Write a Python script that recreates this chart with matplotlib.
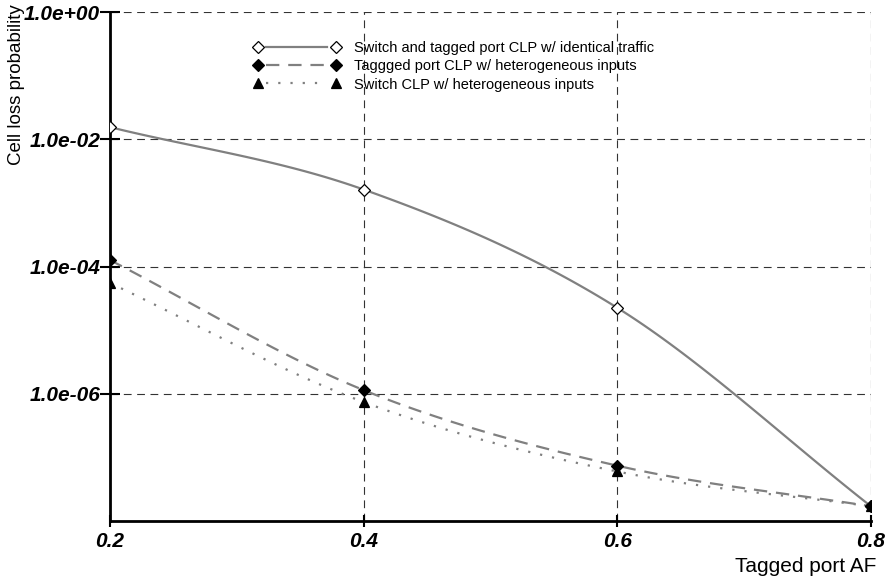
import matplotlib
matplotlib.use("Agg")
import matplotlib.pyplot as plt
from matplotlib.legend_handler import HandlerLine2DCompound
import numpy as np

plt.rcParams['font.family'] = ['Liberation Sans', 'DejaVu Sans']

# Data (log scale)
af = [0.2, 0.4, 0.6, 0.8]
clp_identical = [1.55e-2, 1.62e-3, 2.24e-5, 1.7e-8]
clp_tagged_het = [1.26e-4, 1.14e-6, 7.4e-8, 1.7e-8]
clp_switch_het = [5.5e-5, 7.4e-7, 6.0e-8, 1.7e-8]
labels = ['Switch and tagged port CLP w/ identical traffic',
          'Taggged port CLP w/ heterogeneous inputs',
          'Switch CLP w/ heterogeneous inputs']
yticks = [1e0, 1e-2, 1e-4, 1e-6]
ytick_labels = ['1.0e+00', '1.0e-02', '1.0e-04', '1.0e-06']
xticks = [0.2, 0.4, 0.6, 0.8]


def smooth(xs, ys, n=40):
    # Catmull-Rom curve through the points, done in log10 space
    x = np.asarray(xs, float)
    y = np.log10(np.asarray(ys, float))
    px = np.concatenate([[2 * x[0] - x[1]], x, [2 * x[-1] - x[-2]]])
    py = np.concatenate([[2 * y[0] - y[1]], y, [2 * y[-1] - y[-2]]])
    outx, outy = [], []
    t = np.linspace(0, 1, n)
    for i in range(1, len(px) - 2):
        for p, out in ((px, outx), (py, outy)):
            p0, p1, p2, p3 = p[i - 1], p[i], p[i + 1], p[i + 2]
            out.extend(0.5 * ((2 * p1) + (-p0 + p2) * t
                              + (2 * p0 - 5 * p1 + 4 * p2 - p3) * t ** 2
                              + (-p0 + 3 * p1 - 3 * p2 + p3) * t ** 3))
    return np.array(outx), 10 ** np.array(outy)


class GapHandler(HandlerLine2DCompound):
    # legend entry: marker, gap, line, gap, marker
    def create_artists(self, legend, orig_handle, xdescent, ydescent,
                       width, height, fontsize, trans):
        arts = super().create_artists(legend, orig_handle, xdescent, ydescent,
                                      width, height, fontsize, trans)
        gap = 6
        for a in arts:
            if a.get_linestyle() not in ('None', 'none', ''):
                xd = np.asarray(a.get_xdata(), float)
                a.set_xdata([xd[0] + gap, xd[-1] - gap])
        return arts


fig = plt.figure(figsize=(8.91, 5.84), dpi=100)
ax = fig.add_axes([110 / 891, 1 - 521 / 584, 761 / 891, 509 / 584])

gray = '#808080'
series = [
    (clp_identical, '-', None, 'D', 'white', 6.5),
    (clp_tagged_het, '--', (6, 4), 'D', 'black', 6.5),
    (clp_switch_het, ':', (1, 4.5), '^', 'black', 7),
]
handles = []
for (vals, ls, dash, mk, mfc, ms), lab in zip(series, labels):
    sx, sy = smooth(af, vals)
    line, = ax.plot(sx, sy, color=gray, lw=1.6, ls=ls, zorder=3)
    if dash:
        line.set_dashes(dash)
    ax.plot(af, vals, ls='none', marker=mk, mfc=mfc, mec='black', mew=0.9,
            ms=ms, zorder=4)
    h, = ax.plot([], [], color=gray, lw=1.6, ls=ls, marker=mk, mfc=mfc,
                 mec='black', mew=0.9, ms=ms - 0.5)
    if dash:
        h.set_dashes(dash)
    handles.append(h)

ax.set_yscale('log')
ax.set_xlim(0.2, 0.8)
ax.set_ylim(1e-8, 1e0)
ax.set_yticks(yticks)
ax.set_yticklabels(ytick_labels)
ax.yaxis.set_minor_locator(matplotlib.ticker.NullLocator())
ax.set_xticks(xticks)
ax.set_xticklabels([f'{v:.1f}' for v in xticks])
for lab in ax.get_xticklabels() + ax.get_yticklabels():
    lab.set_fontweight('bold')
    lab.set_fontstyle('italic')
    lab.set_fontsize(15)
ax.tick_params(axis='y', direction='inout', length=14, width=1.5, pad=0)
ax.tick_params(axis='x', direction='inout', length=8, width=1.5, pad=4)

ax.grid(True, color='#333333', lw=0.8, ls=(0, (7, 5)))
ax.set_axisbelow(True)
for s in ('top', 'right'):
    ax.spines[s].set_visible(False)
for s in ('left', 'bottom'):
    ax.spines[s].set_linewidth(2)

fig.text(17 / 891, 1 - 4 / 584, 'Cell loss probability', rotation=90,
         ha='center', va='top', fontsize=13.5)
fig.text(876 / 891, 1 - 566 / 584, 'Tagged port AF', ha='right',
         va='center', fontsize=15)

ax.legend(handles, labels, loc='upper left', bbox_to_anchor=(0.171, 0.968),
          frameon=False, numpoints=2, handlelength=5.95, handletextpad=0.93,
          labelspacing=0.28, fontsize=10.5,
          handler_map={matplotlib.lines.Line2D: GapHandler()})

fig.savefig('out.png', dpi=100)
